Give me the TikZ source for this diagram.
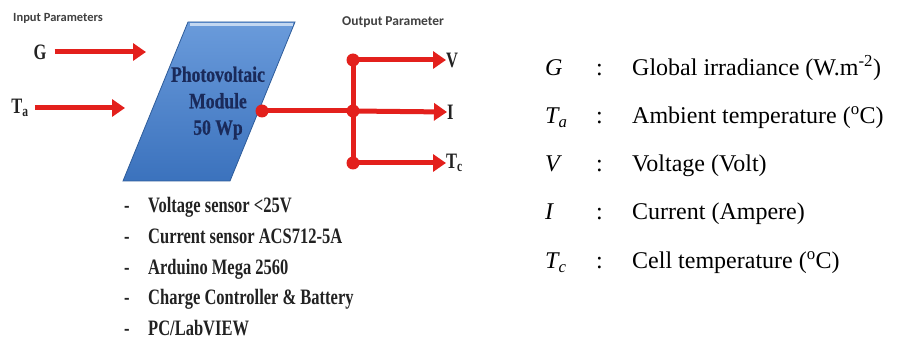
\documentclass[tikz,border=0pt]{standalone}
\usepackage{fontspec}
\setmainfont{Liberation Serif}
\newfontfamily\condfont[FakeStretch=0.75]{Liberation Serif}
\newfontfamily\pvfont[FakeStretch=0.8,FakeBold=0.6]{Liberation Serif}
\newfontfamily\headsans{Carlito}
\usetikzlibrary{arrows.meta}
\definecolor{arrowred}{HTML}{E3201C}
\definecolor{pvtop}{HTML}{6A9BDB}
\definecolor{pvbot}{HTML}{3B72BD}
\definecolor{pvedge}{HTML}{2E5C9A}
\definecolor{pvtext}{HTML}{1A2A5A}
\definecolor{labgray}{HTML}{222222}
\begin{document}
\begin{tikzpicture}[x=1pt,y=-1pt,
  redarrow/.style={draw=arrowred, line width=5pt, -{Triangle[length=13pt,width=17pt]}},
  redline/.style={draw=arrowred, line width=5pt},
  jdot/.style={circle, fill=arrowred, inner sep=0pt, minimum size=13pt},
  vlabel/.style={font=\condfont\bfseries\fontsize{22}{24}\selectfont, text=labgray, inner sep=0pt, anchor=west},
  heading/.style={font=\headsans\bfseries\fontsize{12.5}{14}\selectfont, text=black!75, inner sep=0pt, anchor=west},
  listitem/.style={font=\condfont\bfseries\fontsize{22}{24}\selectfont, text=labgray, inner sep=0pt, anchor=base west},
  legsym/.style={font=\fontsize{24}{26}\selectfont\itshape, inner sep=0pt, anchor=base west},
  legtxt/.style={font=\fontsize{24}{26}\selectfont, inner sep=0pt, anchor=base west},
]
\useasboundingbox (0,0) rectangle (898,342);

% headings
\node[heading] (inhead) at (13,18) {Input Parameters};
\node[heading, font=\headsans\bfseries\fontsize{13.5}{15}\selectfont] (outhead) at (342,22) {Output Parameter};

% PV module
\path[top color=pvtop, bottom color=pvbot, draw=pvedge, line width=0.8pt]
  (188,22) -- (295,22) -- (230,181) -- (123,181) -- cycle;
\draw[white!60!pvtop, line width=2.5pt] (190,24.5) -- (293,24.5);
\node[align=center, text=pvtext, inner sep=0pt,
      font=\pvfont\bfseries\fontsize{22}{26.5}\selectfont] (pv) at (218,103)
  {Photovoltaic\\Module\\50 Wp};

% inputs
\node[vlabel, anchor=center] (G) at (40,52) {G};
\coordinate (Gend) at (146,52);
\draw[redarrow] (G.east) ++(8,0) -- (Gend);
\node[vlabel, anchor=center] (Ta) at (20,108) {T\textsubscript{a}};
\coordinate (Taend) at (125,108);
\draw[redarrow] (Ta.east) ++(6,0) -- (Taend);

% outputs
\node[jdot] (d0) at (262,111) {};
\node[jdot] (jI) at (353,111) {};
\node[jdot] (jV) at (353,60) {};
\node[jdot] (jT) at (353,163) {};
\draw[redline] (d0.center) -- (jI.center);
\draw[redline] (jV.center) -- (jT.center);
\node[vlabel] (V) at (446,60) {V};
\node[vlabel] (I) at (447,112) {I};
\node[vlabel] (Tc) at (446,163) {T\textsubscript{c}};
\draw[redarrow] (jV.center) -- (V.west);
\draw[redarrow] (jI.center) -- (I.west);
\draw[redarrow] (jT.center) -- (Tc.west);

% component list
\foreach \i/\txt in {1/{Voltage sensor <25V}, 2/{Current sensor ACS712-5A}, 3/{Arduino Mega 2560}, 4/{Charge Controller \& Battery}, 5/{PC/LabVIEW}}{
  \node[listitem] (dash\i) at (124,{213+30.5*(\i-1)}) {-};
  \node[listitem] (item\i) at (148,{213+30.5*(\i-1)}) {\txt};
}

% legend
\node[legsym] (sG) at (545,76) {G};
\node[legtxt] (cG) at (596,76) {:};
\node[legtxt] (tG) at (632,76) {Global irradiance (W.m\textsuperscript{-2})};
\node[legsym] (sTa) at (545,124) {T\textsubscript{a}};
\node[legtxt] (cTa) at (596,124) {:};
\node[legtxt] (tTa) at (632,124) {Ambient temperature (\textsuperscript{o}C)};
\node[legsym] (sV) at (545,172) {V};
\node[legtxt] (cV) at (596,172) {:};
\node[legtxt] (tV) at (632,172) {Voltage (Volt)};
\node[legsym] (sI) at (545,220) {I};
\node[legtxt] (cI) at (596,220) {:};
\node[legtxt] (tI) at (632,220) {Current (Ampere)};
\node[legsym] (sTc) at (545,269) {T\textsubscript{c}};
\node[legtxt] (cTc) at (596,269) {:};
\node[legtxt] (tTc) at (632,269) {Cell temperature (\textsuperscript{o}C)};
\end{tikzpicture}
\end{document}
